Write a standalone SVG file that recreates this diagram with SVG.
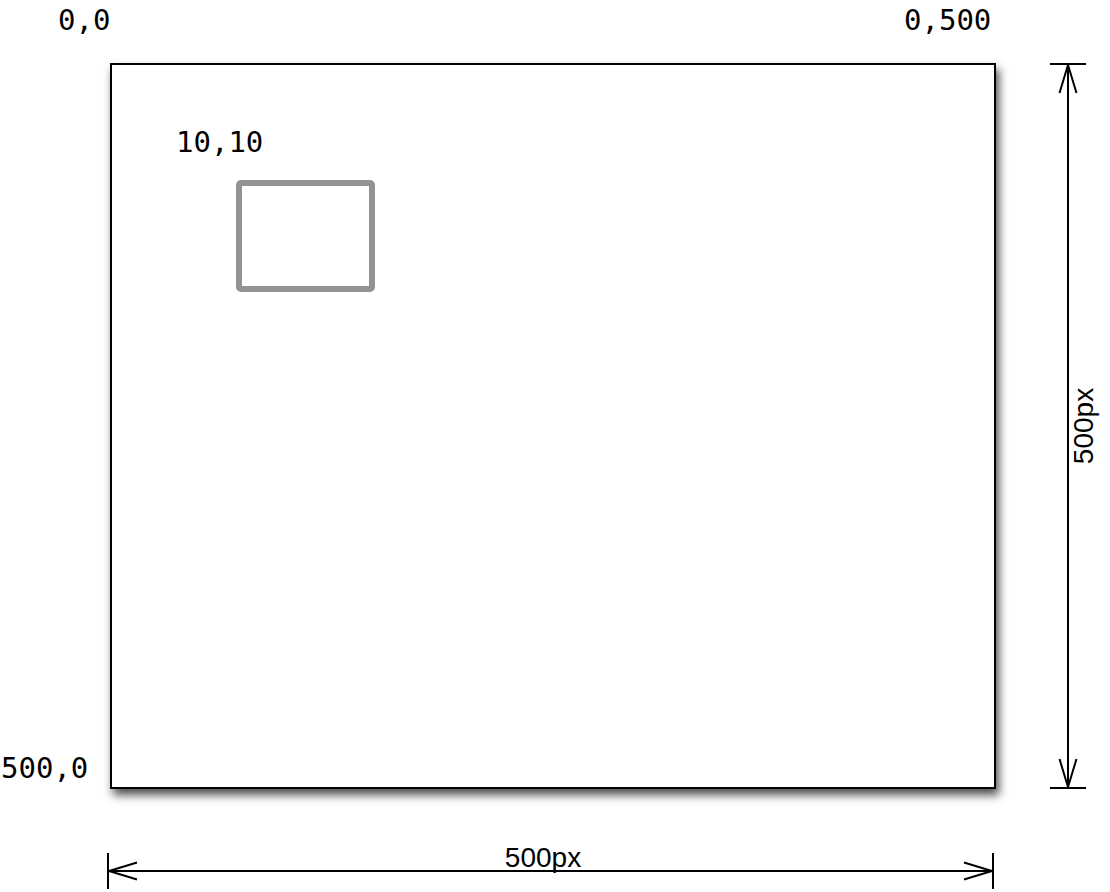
<svg xmlns="http://www.w3.org/2000/svg" width="1110" height="892" viewBox="0 0 1110 892">
<defs>
<filter id="shadow" x="-10%" y="-10%" width="120%" height="125%">
<feDropShadow dx="3" dy="6" stdDeviation="5" flood-color="#000" flood-opacity="0.7"/>
</filter>
<marker id="arrowOpen" viewBox="0 0 30 20" refX="29" refY="10" markerWidth="30" markerHeight="20" markerUnits="userSpaceOnUse" orient="auto-start-reverse">
<path d="M1,1.5 L29,10 L1,18.5" fill="none" stroke="#000" stroke-width="2"/>
</marker>
<style>
.coord{font-family:"DejaVu Sans Mono","Liberation Mono",monospace;font-size:29px;fill:#000}
.dim{font-family:"Liberation Sans",Arial,sans-serif;font-size:28px;fill:#000}
.line{stroke:#000;stroke-width:2;fill:none}
</style>
</defs>
<rect width="1110" height="892" fill="#fff"/>
<g id="canvas">
<rect x="111" y="64" width="884" height="724" fill="#fff" stroke="#000" stroke-width="2" filter="url(#shadow)"/>
</g>
<g id="small-rect">
<rect x="239" y="183" width="133" height="106" rx="2" fill="#fff" stroke="#939393" stroke-width="6"/>
</g>
<g id="labels">
<text class="coord" x="58" y="30">0,0</text>
<text class="coord" x="904" y="30">0,500</text>
<text class="coord" x="176" y="152">10,10</text>
<text class="coord" x="1" y="778">500,0</text>
</g>
<g id="connectors">
<line class="line" x1="1050" y1="64" x2="1086" y2="64"/>
<line class="line" x1="1050" y1="788" x2="1086" y2="788"/>
<line class="line" x1="1068" y1="65" x2="1068" y2="787" marker-start="url(#arrowOpen)" marker-end="url(#arrowOpen)"/>
<line class="line" x1="108" y1="853" x2="108" y2="889"/>
<line class="line" x1="993" y1="853" x2="993" y2="889"/>
<line class="line" x1="109" y1="871" x2="992" y2="871" marker-start="url(#arrowOpen)" marker-end="url(#arrowOpen)"/>
</g>
<g id="dim-labels">
<text class="dim" x="543" y="867" text-anchor="middle">500px</text>
<text class="dim" transform="translate(1093,426) rotate(-90)" text-anchor="middle">500px</text>
</g>
</svg>
